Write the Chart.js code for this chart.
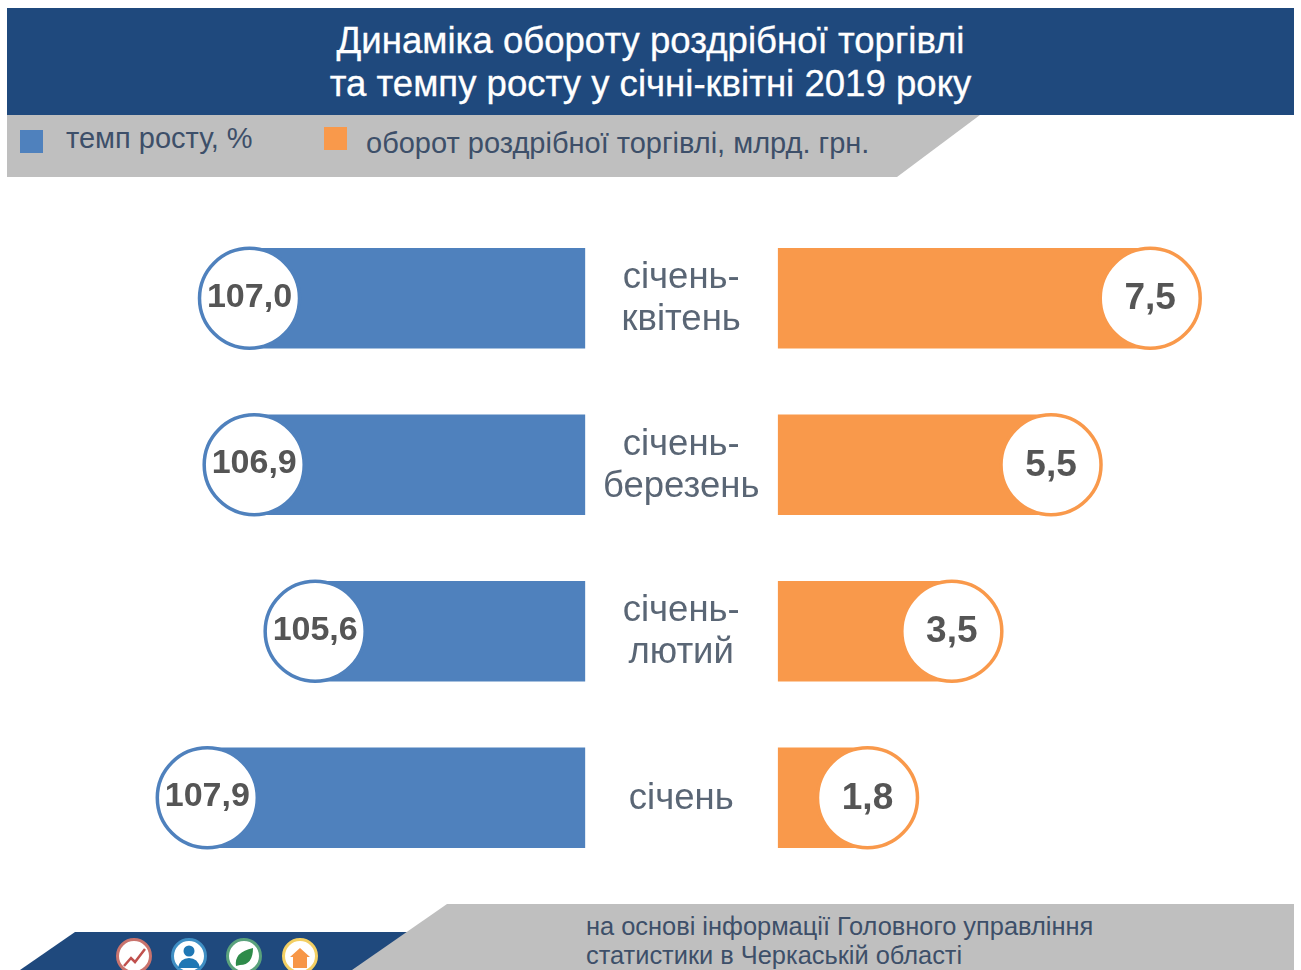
<!DOCTYPE html>
<html lang="uk"><head><meta charset="utf-8">
<script src="https://cdn.jsdelivr.net/npm/chart.js@4/dist/chart.umd.min.js"></script>
<style>
html,body{margin:0;padding:0;background:#fff;width:1301px;height:970px;overflow:hidden}
body{position:relative;font-family:"Liberation Sans",Arial,sans-serif}
canvas{position:absolute;left:0;top:0}
.abs{position:absolute;white-space:nowrap}
#hdr{left:7px;top:8px;width:1287px;height:107px;background:#1f497d}
#band{left:7px;top:115px;width:973px;height:62px;background:#bfbfbf;clip-path:polygon(0 0,100% 0,890px 100%,0 100%)}
.t{color:#fff;font-size:36.6px;left:0;width:1301px;text-align:center;-webkit-text-stroke:.3px #fff}
.lg{color:#3d4f69;font-size:29px}
.sw{width:23px;height:23px}
#fb{left:0;top:932px;width:410px;height:38px;background:#1f497d;clip-path:polygon(75px 0,100% 0,353px 100%,20px 100%)}
#fg{left:352px;top:904px;width:942px;height:66px;background:#bfbfbf;clip-path:polygon(95px 0,100% 0,100% 100%,0 100%)}
.src{color:#3d4f69;font-size:25.4px;left:586px}
svg{position:absolute;left:0;top:0}
</style></head><body>
<div class="abs" id="hdr"></div>
<div class="abs" id="band"></div>
<div class="abs" id="fb"></div>
<div class="abs" id="fg"></div>
<div class="abs t" id="t1" style="top:20px"></div>
<div class="abs t" id="t2" style="top:63px"></div>
<div class="abs sw" id="sw0" style="left:20px;top:130px"></div>
<div class="abs sw" id="sw1" style="left:324px;top:127px"></div>
<div class="abs lg" id="lg0" style="left:66px;top:122px"></div>
<div class="abs lg" id="lg1" style="left:366px;top:127px"></div>
<div class="abs src" id="s1" style="top:912px"></div>
<div class="abs src" id="s2" style="top:941px"></div>
<svg width="1301" height="970" viewBox="0 0 1301 970">
  <g stroke-width="3" fill="#fff">
    <circle cx="134" cy="956" r="16.5" stroke="#c9736d"/>
    <circle cx="189" cy="956" r="16.5" stroke="#3f8fc4"/>
    <circle cx="244" cy="956" r="16.5" stroke="#5aa27c"/>
    <circle cx="300" cy="956" r="16.5" stroke="#f3cf63"/>
  </g>
  <path d="M124 966l7-8 4 4 10-13" fill="none" stroke="#c0504d" stroke-width="2.5"/>
  <circle cx="189" cy="951" r="5.5" fill="#1f77b4"/><path d="M178 968q2-10 11-10t11 10z" fill="#1f77b4"/>
  <path d="M236 966q-2-14 17-18q0 17-13 17z" fill="#2e8b4a"/>
  <path d="M290 957l10-9 10 9h-3v11h-14v-11z" fill="#f79646"/>
</svg>
<canvas id="c" width="1301" height="970"></canvas>
<script>
const titleLines = ["Динаміка обороту роздрібної торгівлі", "та темпу росту у січні-квітні 2019 року"];
const categories = [["січень-","квітень"],["січень-","березень"],["січень-","лютий"],["січень"]];
const seriesNames = ["темп росту, %","оборот роздрібної торгівлі, млрд. грн."];
const growthRate = [107.0,106.9,105.6,107.9];
const turnover = [7.5,5.5,3.5,1.8];
const sourceLines = ["на основі інформації Головного управління","статистики в Черкаській області"];
const blue="#4f81bd", orange="#f9994b";

document.getElementById('t1').textContent=titleLines[0];
document.getElementById('t2').textContent=titleLines[1];
document.getElementById('lg0').textContent=seriesNames[0];
document.getElementById('lg1').textContent=seriesNames[1];
document.getElementById('sw0').style.background=blue;
document.getElementById('sw1').style.background=orange;
document.getElementById('s1').textContent=sourceLines[0];
document.getElementById('s2').textContent=sourceLines[1];

const badges={id:'badges',afterDatasetsDraw(chart){
  const ctx=chart.ctx;
  chart.data.datasets.forEach((ds,di)=>{
    chart.getDatasetMeta(di).data.forEach((el,i)=>{
      ctx.save();
      ctx.beginPath();ctx.arc(el.x,el.y,50,0,Math.PI*2);
      ctx.fillStyle='#fff';ctx.fill();
      ctx.lineWidth=3.5;ctx.strokeStyle=ds.backgroundColor;ctx.stroke();
      const txt=ds.data[i].toFixed(1).replace('.',',');
      ctx.fillStyle='#555';ctx.textAlign='center';ctx.textBaseline='middle';
      ctx.font=(di===0?'bold 34px':'bold 37px')+' "Liberation Sans"';
      ctx.fillText(txt,el.x,el.y+(di===0?-1:1));
      ctx.restore();
    });
  });
  // category captions, centred between the two bar groups
  const xc=chart.scales.xR.getPixelForValue(0)-97, y=chart.scales.y;
  ctx.save();ctx.fillStyle='#5a6675';ctx.textAlign='center';ctx.textBaseline='middle';
  ctx.font='36.5px "Liberation Sans"';
  categories.forEach((lines,i)=>{
    const yc=y.getPixelForTick(i);
    lines.forEach((ln,k)=>ctx.fillText(ln,xc,yc+1+(k-(lines.length-1)/2)*42));
  });
  ctx.restore();
}};

new Chart(document.getElementById('c'),{
  type:'bar',
  data:{labels:categories.map(c=>c.join(' ')),datasets:[
    {label:seriesNames[0],data:growthRate,xAxisID:'xL',base:99.85,backgroundColor:blue,barThickness:100,grouped:false},
    {label:seriesNames[1],data:turnover,xAxisID:'xR',base:0,backgroundColor:orange,barThickness:100,grouped:false}
  ]},
  options:{
    indexAxis:'y',responsive:false,animation:false,devicePixelRatio:1,
    layout:{padding:{top:215,bottom:89,left:0,right:0}},
    plugins:{legend:{display:false},title:{display:false},tooltip:{enabled:false}},
    scales:{
      y:{display:false,offset:true},
      xL:{display:false,reverse:true,min:84.58,max:112.32},
      xR:{display:false,min:-15.69,max:10.54}
    }
  },
  plugins:[badges]
});
</script>
</body></html>
